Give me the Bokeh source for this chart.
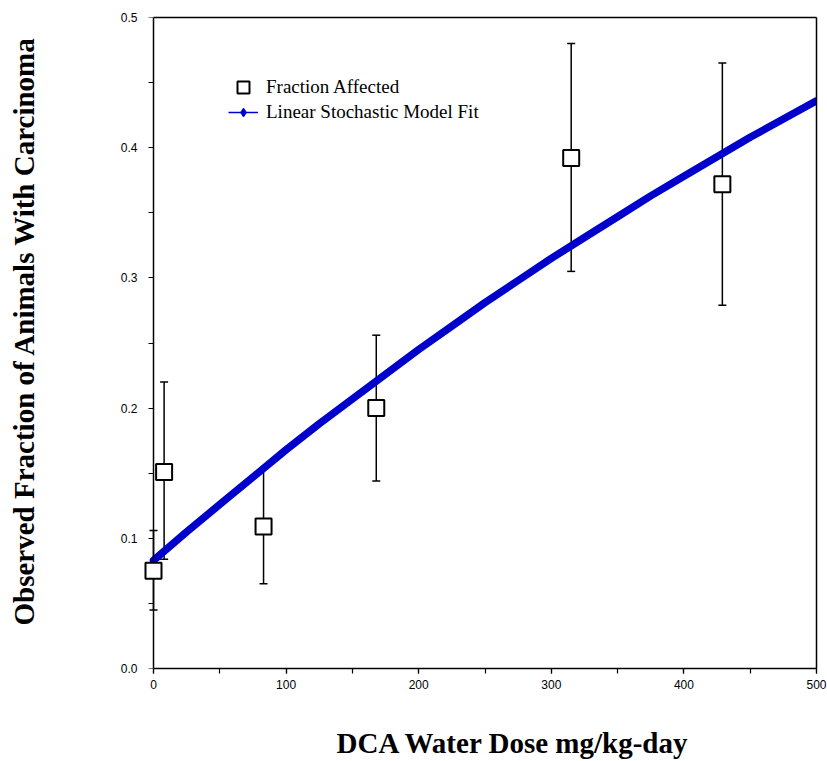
from bokeh.plotting import figure
from bokeh.models import (Range1d, ColumnDataSource, Whisker, TeeHead, Legend,
                          LegendItem, FixedTicker, LinearAxis, Title)
from bokeh.embed import file_html
from bokeh.resources import INLINE

# Observed data
dose = [0, 8, 83, 168, 315, 429]
fraction = [0.075, 0.151, 0.109, 0.200, 0.392, 0.372]
upper = [0.106, 0.220, 0.153, 0.256, 0.480, 0.465]
lower = [0.045, 0.084, 0.065, 0.144, 0.305, 0.279]

# Model fit curve
fit_dose = [0, 25, 50, 75, 100, 125, 150, 175, 200, 225, 250, 275, 300,
            325, 350, 375, 400, 425, 450, 475, 500]
fit_frac = [0.083, 0.105, 0.126, 0.147, 0.168, 0.188, 0.207, 0.226, 0.245,
            0.263, 0.281, 0.298, 0.315, 0.331, 0.347, 0.363, 0.378, 0.393,
            0.408, 0.422, 0.436]

x_ticks = [0, 100, 200, 300, 400, 500]
y_ticks = [0.0, 0.1, 0.2, 0.3, 0.4, 0.5]

x_label = "DCA Water Dose mg/kg-day"
y_label = "Observed Fraction of Animals With Carcinoma"

X_START = -500 * 13 / 663  # small margin left of zero so markers at 0 are not clipped

p = figure(width=827, height=761, frame_width=676, frame_height=651,
           min_border_left=140, min_border_right=11, min_border_top=17,
           min_border_bottom=93, output_backend="svg", toolbar_location=None,
           x_range=Range1d(X_START, 500), y_range=Range1d(0, 0.5),
           x_axis_location=None, y_axis_location=None)
p.grid.visible = False
p.outline_line_color = None
p.background_fill_color = "white"
p.border_fill_color = "white"


def style(ax):
    ax.axis_line_width = 1.5
    ax.axis_line_color = "black"
    ax.major_tick_line_width = 1.2
    ax.minor_tick_line_width = 1.2
    ax.major_tick_in = 0
    ax.major_tick_out = 5
    ax.minor_tick_in = 0
    ax.minor_tick_out = 5
    ax.major_label_text_font = "Liberation Sans"
    ax.major_label_text_font_size = "12px"
    ax.major_label_text_color = "black"


# bottom axis (line from 0 to 500)
xax = LinearAxis(ticker=FixedTicker(ticks=x_ticks, minor_ticks=list(range(0, 501, 50))),
                 bounds=(0, 500))
style(xax)
xax.major_label_standoff = 6
# blank axis label used only as spacing before the title
xax.axis_label = " "
xax.axis_label_text_font_size = "10px"
xax.axis_label_standoff = 19
p.add_layout(xax, "below")

# y axis line + ticks drawn at dose = 0 (no labels)
y_line = LinearAxis(ticker=FixedTicker(ticks=[], minor_ticks=[i * 0.05 for i in range(11)]),
                    fixed_location=0)
style(y_line)
p.add_layout(y_line, "left")

# y tick labels at the frame edge
y_lab = LinearAxis(ticker=FixedTicker(ticks=y_ticks, minor_ticks=[]))
style(y_lab)
y_lab.axis_line_color = None
y_lab.major_tick_line_color = None
y_lab.major_tick_out = 0
y_lab.minor_tick_out = 0
y_lab.major_label_standoff = 3
y_lab.major_label_overrides = {t: f"{t:.1f}" for t in y_ticks}
y_lab.axis_label = " "
y_lab.axis_label_text_font_size = "10px"
y_lab.axis_label_standoff = 64
p.add_layout(y_lab, "left")

# box: top and right edges
top = LinearAxis(bounds=(0, 500), ticker=FixedTicker(ticks=[], minor_ticks=[]),
                 axis_line_width=1.5, axis_line_color="black")
p.add_layout(top, "above")
right = LinearAxis(ticker=FixedTicker(ticks=[], minor_ticks=[]),
                   axis_line_width=1.5, axis_line_color="black")
p.add_layout(right, "right")

# axis titles
p.add_layout(Title(text=x_label, align="left", offset=196, standoff=0,
                   text_font="Liberation Serif", text_font_style="bold",
                   text_font_size="29px", text_color="black"), "below")
p.add_layout(Title(text=y_label, align="left", offset=43, standoff=0,
                   text_font="Liberation Serif", text_font_style="bold",
                   text_font_size="29px", text_color="black"), "left")

src = ColumnDataSource(dict(x=dose, y=fraction, up=upper, lo=lower))

w = Whisker(source=src, base="x", upper="up", lower="lo", dimension="height",
            line_color="black", line_width=1.5,
            upper_head=TeeHead(size=8, line_color="black", line_width=1.5),
            lower_head=TeeHead(size=8, line_color="black", line_width=1.5))
p.add_layout(w)

p.line(fit_dose, fit_frac, line_color="#0000cc", line_width=7.5,
       line_cap="round", line_join="round")

p.scatter("x", "y", source=src, marker="square", size=16, fill_color="white",
          line_color="black", line_width=2, level="overlay")

# legend proxies (placed outside the visible range)
sq = p.scatter([-1000], [-1], marker="square", size=16, fill_color="white",
               line_color="black", line_width=2)
ln = p.line([-1000, -999], [-1, -1], line_color="#0000cc", line_width=1.5)
dm = p.scatter([-1000], [-1], marker="diamond", size=9, fill_color="#0000cc",
               line_color="#0000cc")


def legend_style(lg, gh):
    lg.background_fill_alpha = 0
    lg.border_line_alpha = 0
    lg.label_text_font = "Liberation Serif"
    lg.label_text_font_size = "19px"
    lg.label_text_color = "black"
    lg.glyph_width = 30
    lg.glyph_height = gh
    lg.label_height = gh
    lg.spacing = 0
    lg.padding = 4
    lg.label_standoff = 8


leg1 = Legend(items=[LegendItem(label="Fraction Affected", renderers=[sq])],
              location=(84, 561))
legend_style(leg1, 32)
p.add_layout(leg1, "center")

leg2 = Legend(items=[LegendItem(label="Linear Stochastic Model Fit", renderers=[ln, dm])],
              location=(84, 541))
legend_style(leg2, 22)
p.add_layout(leg2, "center")

open("out.html", "w").write(file_html(p, INLINE))
